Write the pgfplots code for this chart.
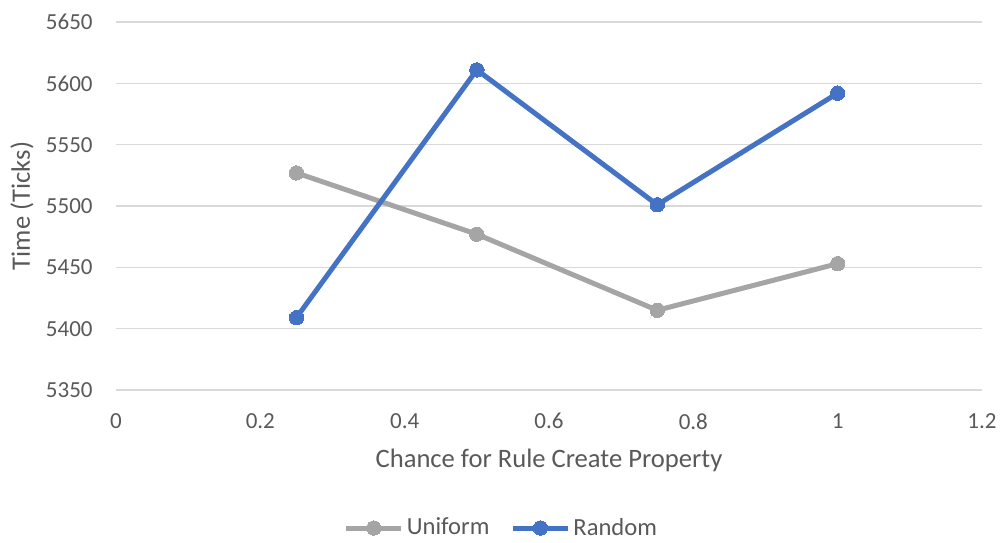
\documentclass[border=0pt]{standalone}
\usepackage{fontspec}
\setmainfont{Carlito}
\usepackage{pgfplots}
\pgfplotsset{compat=1.18}
\definecolor{uni}{HTML}{A5A5A5}
\definecolor{rnd}{HTML}{4472C4}
\definecolor{gridc}{HTML}{D9D9D9}
\definecolor{txt}{HTML}{595959}

\begin{document}
\begin{tikzpicture}
  \begin{axis}[
      scale only axis, width=433pt, height=184pt,
      xmin=0, xmax=1.2, ymin=5350, ymax=5650,
      xtick={0,0.2,0.4,0.6,0.8,1,1.2},
      ytick={5350,5400,5450,5500,5550,5600,5650},
      scaled ticks=false,
      /pgf/number format/1000 sep={},
      /pgf/number format/assume math mode=true,
      ymajorgrids, grid style={gridc, line width=0.75pt},
      axis line style={draw=none},
      major tick length=0pt,
      tick label style={font=\fontsize{11.5}{13}\selectfont, text=txt},
      xticklabel style={inner sep=0pt, yshift=-11.5pt},
      yticklabel style={inner sep=0pt, xshift=-11.5pt},
      xlabel={Chance for Rule Create Property},
      ylabel={Time (Ticks)},
      label style={font=\fontsize{13.3}{15}\selectfont, text=txt},
      xlabel style={at={(axis description cs:0.5,-0.19)}, anchor=center},
      ylabel style={at={(axis description cs:-0.1085,0.5)}, anchor=center},
      legend columns=2,
      legend style={at={(axis description cs:0.4457,-0.375)}, anchor=center,
        draw=none, fill=none, font=\fontsize{12.3}{14}\selectfont, text=txt,
        /tikz/every even column/.append style={column sep=9pt},
        inner sep=0pt, nodes={inner sep=1.5pt}},
      legend image code/.code={
        \draw[#1, mark repeat=2, mark phase=2]
          plot coordinates {(0pt,0pt) (13.75pt,0pt) (27.5pt,0pt)};},
      every axis plot/.append style={line width=2.5pt, mark=*, mark size=3.6pt},
    ]
    \addplot[color=uni, mark options={fill=uni, draw=uni, line width=0pt}]
      coordinates {(0.25,5527) (0.5,5477) (0.75,5415) (1,5453)};
    \addlegendentry{Uniform}
    \addplot[color=rnd, mark options={fill=rnd, draw=rnd, line width=0pt}]
      coordinates {(0.25,5409) (0.5,5611) (0.75,5501) (1,5592)};
    \addlegendentry{Random}
  \end{axis}
  \pgfresetboundingbox
  \path[use as bounding box] (-58pt,-76pt) rectangle (444pt,195pt);
\end{tikzpicture}
\end{document}
